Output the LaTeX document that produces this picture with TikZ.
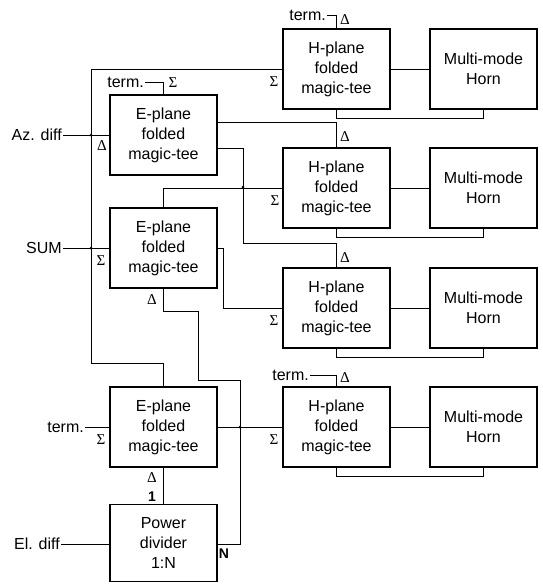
\documentclass[tikz,border=0pt]{standalone}
\usepackage{fontspec}
\setmainfont{Liberation Sans}
\newfontfamily\symfont{Liberation Serif}
\begin{document}
\begin{tikzpicture}[x=1pt,y=-1pt,
  box/.style={draw,line width=1.3pt,minimum width=107pt,minimum height=80pt,align=center,inner sep=0pt,font=\fontsize{16}{20}\selectfont},
  wire/.style={line width=0.9pt},
  lab/.style={font=\fontsize{16}{20}\selectfont,inner sep=1pt},
  sym/.style={font=\symfont\fontsize{15}{18}\selectfont,inner sep=0pt},
  jdot/.style={circle,fill,inner sep=0pt,minimum size=3pt}]
\useasboundingbox (0,0) rectangle (543,584);
% boxes
\node[box] (E1) at (163.5,135) {E-plane\\folded\\magic-tee};
\node[box] (E2) at (163.5,248) {E-plane\\folded\\magic-tee};
\node[box] (E3) at (163.5,427) {E-plane\\folded\\magic-tee};
\node[box,minimum height=77pt] (PD) at (163.5,543) {Power\\divider\\1:N};
\node[box] (H1) at (336.5,69) {H-plane\\folded\\magic-tee};
\node[box] (H2) at (336.5,188) {H-plane\\folded\\magic-tee};
\node[box] (H3) at (336.5,308) {H-plane\\folded\\magic-tee};
\node[box] (H4) at (336.5,427) {H-plane\\folded\\magic-tee};
\node[box] (R1) at (483.5,69) {Multi-mode\\Horn};
\node[box] (R2) at (483.5,188) {Multi-mode\\Horn};
\node[box] (R3) at (483.5,308) {Multi-mode\\Horn};
\node[box] (R4) at (483.5,427) {Multi-mode\\Horn};
% input labels
\node[lab,anchor=east] (az) at (63,135) {Az. diff};
\node[lab,anchor=east] (sum) at (63,248) {SUM};
\node[lab,anchor=east] (t3) at (85,427) {term.};
\node[lab,anchor=east] (el) at (61,544) {El. diff};
\node[lab,anchor=east] (t1) at (145,82) {term.};
\node[lab,anchor=east] (th1) at (327,15) {term.};
\node[lab,anchor=east] (th4) at (310,375) {term.};
% coordinates
\coordinate (e1a) at (217,122);
\coordinate (e1b) at (217,148);
\coordinate (k1) at (243,243);
\coordinate (k2) at (223,248);
\coordinate (k3) at (91,363);
\coordinate (k4) at (240,380);
\coordinate (k5) at (198,311);
% wires
\foreach \i in {1,2,3,4}{
  \draw[wire] (H\i.east) -- (R\i.west);
  \draw[wire] (H\i.south) -- ++(0,9) -| (R\i.south);
}
\draw[wire] (az.east) -- (E1.west);
\draw[wire] (sum.east) -- (E2.west);
\draw[wire] (t3.east) -- (E3.west);
\draw[wire] (el.east) -- (PD.west |- el.east);
\draw[wire] (t1.east) -| (E1.north);
\draw[wire] (th1.east) -| (H1.north);
\draw[wire] (th4.east) -| (H4.north);
\draw[wire] (e1a) -| (H2.north);
\draw[wire] (e1b) -| (k1) -| (H3.north);
\draw[wire] (E2.north) |- (H2.west);
\draw[wire] (E2.east) -- (k2) |- (H3.west);
\draw[wire] (H1.west) -| (k3) -| (E3.north);
\draw[wire] (E3.east) -- (H4.west);
\draw[wire] (E3.south) -- (PD.north);
\draw[wire] (PD.east |- el.east) -| (k4) -| (k5) -| (E2.south);
% crossing dots
\node[jdot] (d1) at (91,135) {};
\node[jdot] (d2) at (91,248) {};
\node[jdot] (d3) at (243,187) {};
\node[jdot] (d4) at (240,427) {};
% port labels
\node[sym] (s1) at (102,146) {Δ};
\node[sym] (s2) at (101,261) {Σ};
\node[sym] (s3) at (101,440) {Σ};
\node[sym] (s4) at (173,83) {Σ};
\node[sym] (s5) at (274,82) {Σ};
\node[sym] (s6) at (275,201) {Σ};
\node[sym] (s7) at (274,321) {Σ};
\node[sym] (s8) at (274,440) {Σ};
\node[sym] (s9) at (345,20) {Δ};
\node[sym] (s10) at (345,137) {Δ};
\node[sym] (s11) at (345,258) {Δ};
\node[sym] (s12) at (345,378) {Δ};
\node[sym] (s13) at (152,300) {Δ};
\node[sym] (s14) at (152,478) {Δ};
\node[lab,font=\bfseries\fontsize{14}{16}\selectfont] (n1) at (152,497) {1};
\node[lab,font=\bfseries\fontsize{14}{16}\selectfont] (nN) at (224,554) {N};
\end{tikzpicture}
\end{document}
